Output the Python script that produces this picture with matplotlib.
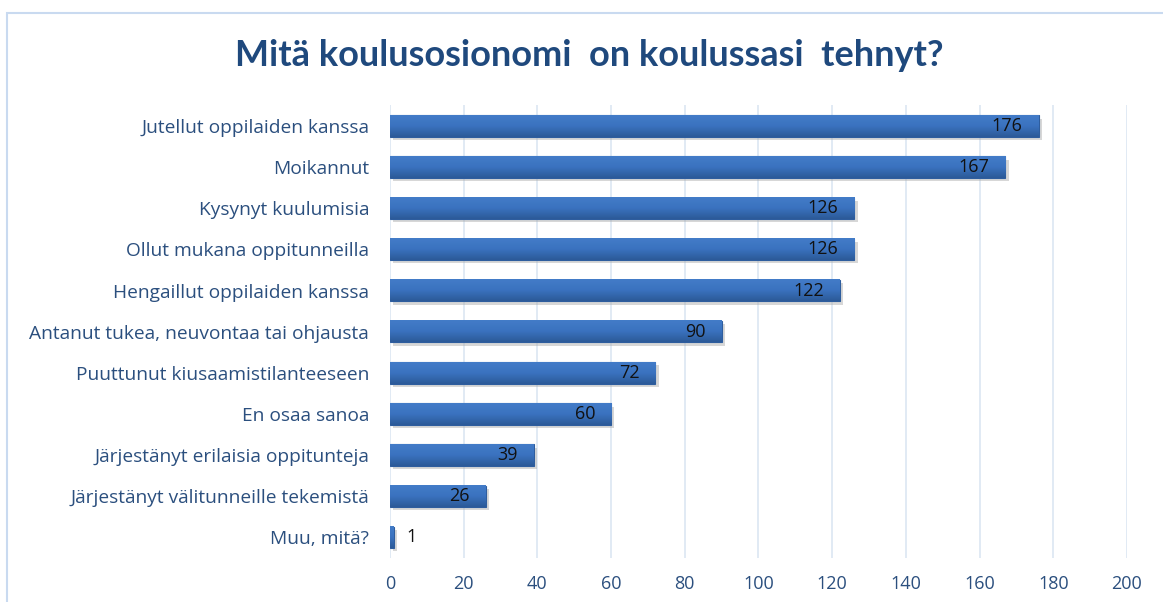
import matplotlib.pyplot as plt
import matplotlib.patches as mpatches
from matplotlib.colors import LinearSegmentedColormap
import numpy as np

plt.rcParams['font.family'] = ['Open Sans', 'DejaVu Sans']

# data (top to bottom as in the chart)
categories = [
    'Jutellut oppilaiden kanssa',
    'Moikannut',
    'Kysynyt kuulumisia',
    'Ollut mukana oppitunneilla',
    'Hengaillut oppilaiden kanssa',
    'Antanut tukea, neuvontaa tai ohjausta',
    'Puuttunut kiusaamistilanteeseen',
    'En osaa sanoa',
    'Järjestänyt erilaisia oppitunteja',
    'Järjestänyt välitunneille tekemistä',
    'Muu, mitä?',
]
values = [176, 167, 126, 126, 122, 90, 72, 60, 39, 26, 1]
xticks = [0, 20, 40, 60, 80, 100, 120, 140, 160, 180, 200]

title_col = '#1f497d'
label_col = '#2b4f7e'
grid_col = '#dce6f2'
bar_cmap = LinearSegmentedColormap.from_list('bar', ['#437cc8', '#3a72bf', '#2c5a98'])

fig = plt.figure(figsize=(11.63, 6.02), dpi=100)
ax = fig.add_axes([0.3353, 0.073, 0.6337, 0.752])

# chart frame
fig.patches.append(mpatches.Rectangle((7 / 1163, -0.05), 1.2, 1 - 13 / 602 + 0.05,
                                      transform=fig.transFigure, fill=False,
                                      edgecolor='#c9daf0', linewidth=1.5))

y = np.arange(len(categories))
h = 0.52
# soft shadow behind bars
ax.barh(y + 0.08, values, height=h, left=0.9, color='#a8a8a8', alpha=0.45,
        zorder=2, linewidth=0)
bars = ax.barh(y, values, height=h, color='#3a72bf', edgecolor='#2e5d9e',
               linewidth=0.8, zorder=3)
grad = np.linspace(0, 1, 64).reshape(-1, 1)
for b in bars:
    x0, y0 = b.get_x(), b.get_y()
    ax.imshow(grad, extent=[x0, x0 + b.get_width(), y0 + b.get_height(), y0],
              aspect='auto', cmap=bar_cmap, zorder=3.5, interpolation='bilinear')

for yi, v in zip(y, values):
    if v > 10:
        ax.text(v - 4.3, yi, str(v), ha='right', va='center', fontsize=13,
                color='#111111', zorder=4)
    else:
        ax.text(v + 3.5, yi, str(v), ha='left', va='center', fontsize=13,
                color='#111111', zorder=4)

ax.set_xlim(0, 200)
ax.set_ylim(len(categories) - 0.5, -0.5)
ax.set_xticks(xticks)
ax.set_yticks(y)
ax.set_yticklabels(categories)
ax.tick_params(axis='x', length=0, labelsize=13, labelcolor=label_col, pad=12)
ax.tick_params(axis='y', length=0, labelsize=13.8, labelcolor=label_col, pad=15)
ax.xaxis.grid(True, color=grid_col, linewidth=1.2, zorder=0)
ax.set_axisbelow(True)
for s in ax.spines.values():
    s.set_visible(False)

fig.text(0.507, 0.908, 'Mitä koulusosionomi  on koulussasi  tehnyt?',
         ha='center', va='center', fontsize=26, fontweight='bold', color=title_col,
         family=['Lato', 'DejaVu Sans'])

fig.savefig('out.png', dpi=100, facecolor='white')
